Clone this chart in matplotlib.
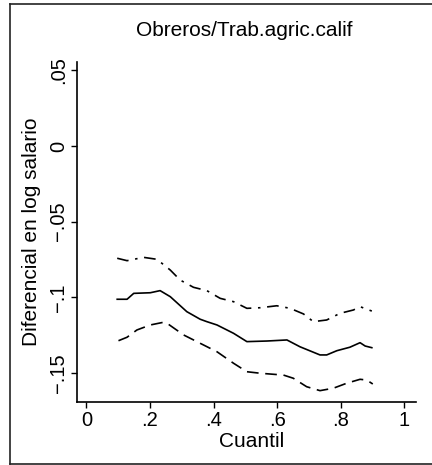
import matplotlib
matplotlib.use("Agg")
import matplotlib.pyplot as plt
from matplotlib.lines import Line2D

# quantile grid and estimates
q_mid = [0.097, 0.128, 0.149, 0.201, 0.232, 0.264, 0.316, 0.358, 0.379, 0.411,
         0.463, 0.505, 0.568, 0.631, 0.672, 0.735, 0.756, 0.788, 0.829, 0.861,
         0.877, 0.898]
est = [-0.1013, -0.1013, -0.0974, -0.0970, -0.0956, -0.0996, -0.1095, -0.1145,
       -0.1161, -0.1183, -0.1238, -0.1293, -0.1289, -0.1282, -0.1327, -0.1381,
       -0.1381, -0.1353, -0.1330, -0.1300, -0.1322, -0.1333]

q_up = [0.097, 0.128, 0.180, 0.222, 0.264, 0.295, 0.337, 0.379, 0.421, 0.463,
        0.505, 0.547, 0.599, 0.641, 0.683, 0.714, 0.756, 0.798, 0.840, 0.861,
        0.898]
upper = [-0.0742, -0.0758, -0.0736, -0.0749, -0.0820, -0.0886, -0.0934, -0.0956,
         -0.1007, -0.1029, -0.1073, -0.1069, -0.1056, -0.1073, -0.1110, -0.1161,
         -0.1150, -0.1106, -0.1084, -0.1062, -0.1091]

q_lo = [0.101, 0.128, 0.159, 0.201, 0.243, 0.254, 0.306, 0.358, 0.411, 0.463,
        0.505, 0.547, 0.620, 0.651, 0.693, 0.735, 0.777, 0.819, 0.861, 0.882,
        0.901]
lower = [-0.1287, -0.1264, -0.1216, -0.1183, -0.1165, -0.1172, -0.1249, -0.1304,
         -0.1360, -0.1436, -0.1492, -0.1502, -0.1514, -0.1535, -0.1591, -0.1617,
         -0.1601, -0.1568, -0.1542, -0.1547, -0.1573]

x_ticks = [0, 0.2, 0.4, 0.6, 0.8, 1]
x_labels = ["0", ".2", ".4", ".6", ".8", "1"]
y_ticks = [0.05, 0, -0.05, -0.1, -0.15]
y_labels = [".05", "0", "\u2212.05", "\u2212.1", "\u2212.15"]

plt.rcParams["font.family"] = ["Liberation Sans", "DejaVu Sans"]

W, H = 432, 465
fig = plt.figure(figsize=(W / 100, H / 100), dpi=100)

# outer frame: top, left and bottom edges (right edge is cut off)
fx0, fy_top, fy_bot = 9.5 / W, 1 - 4 / H, 1 - 463.5 / H
frame = [([fx0, 1.0], [fy_top, fy_top]),
         ([fx0, fx0], [fy_bot, fy_top]),
         ([fx0, 1.0], [fy_bot, fy_bot])]
for xs, ys in frame:
    fig.add_artist(Line2D(xs, ys, transform=fig.transFigure,
                          color="#222222", linewidth=1.2))

ax = fig.add_axes([76.7 / W, 1 - 402.3 / H, (416 - 76.7) / W, (402.3 - 61.7) / H])

ax.plot(q_mid, est, color="black", linewidth=1.2)
ax.plot(q_up, upper, color="black", linewidth=1.2, dashes=(7, 4, 1.5, 4))
ax.plot(q_lo, lower, color="black", linewidth=1.2, dashes=(7, 4))

ax.set_xlim(-0.0304, 1.037)
ax.set_ylim(-0.1694, 0.0557)

ax.set_xticks(x_ticks)
ax.set_xticklabels(x_labels, fontsize=14.5)
ax.set_yticks(y_ticks)
ax.set_yticklabels(y_labels, fontsize=14.5, rotation=90, va="center")
ax.tick_params(direction="out", length=4, width=1, pad=2, color="black")

for side in ["top", "right"]:
    ax.spines[side].set_visible(False)
for side in ["left", "bottom"]:
    ax.spines[side].set_linewidth(1.2)

ax.set_ylabel("Diferencial en log salario", fontsize=15, labelpad=6)

fig.text(252 / W, 1 - 441 / H, "Cuantil", fontsize=15, ha="center", va="center")
fig.text(244 / W, 1 - 30 / H, "Obreros/Trab.agric.calif", fontsize=15,
         ha="center", va="center")

fig.savefig("out.png", dpi=100)
